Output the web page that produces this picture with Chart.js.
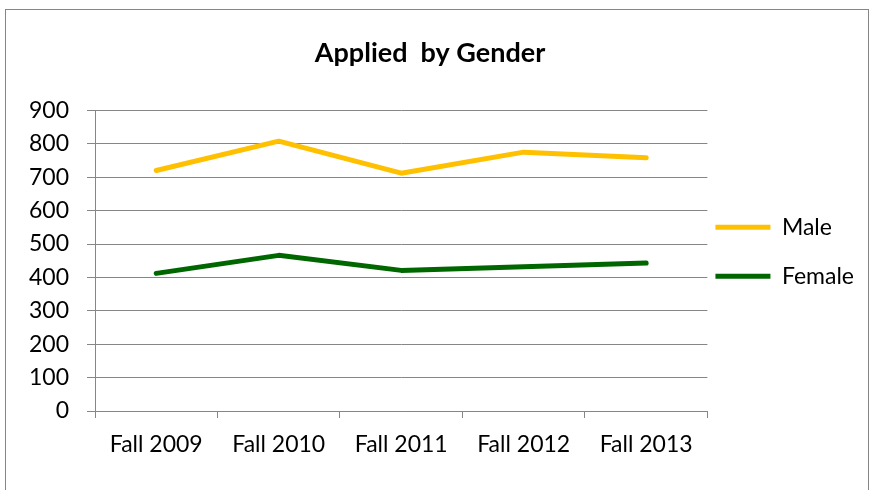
<!DOCTYPE html>
<html>
<head>
<meta charset="utf-8">
<script src="https://cdn.jsdelivr.net/npm/chart.js@4/dist/chart.umd.min.js"></script>
<style>
  html, body { margin: 0; padding: 0; background: #fff; }
  #wrap { position: relative; width: 873px; height: 490px; }
  #frame { position: absolute; left: 5px; top: 9px; width: 864px; height: 490px; border: 1px solid #868686; box-sizing: border-box; }
  canvas { position: absolute; left: 0; top: 0; }
</style>
</head>
<body>
<div id="wrap">
  <div id="frame"></div>
  <canvas id="c" width="873" height="490"></canvas>
</div>
<script>
const categories = ["Fall 2009", "Fall 2010", "Fall 2011", "Fall 2012", "Fall 2013"];
const maleValues = [720, 808, 712, 775, 758];
const femaleValues = [412, 466, 421, 432, 443];
const yTicks = [0, 100, 200, 300, 400, 500, 600, 700, 800, 900];
const chartTitle = "Applied  by Gender";

const FONT = "Lato, 'Liberation Sans', sans-serif";

const titleShift = {
  id: 'titleShift',
  afterLayout(chart) {
    if (chart.titleBlock) { chart.titleBlock.left -= 12; chart.titleBlock.right -= 12; }
  }
};

new Chart(document.getElementById('c'), {
  type: 'line',
  data: {
    labels: categories,
    datasets: [
      { label: 'Male', data: maleValues, borderColor: '#FFC000', backgroundColor: '#FFC000',
        borderWidth: 5, pointRadius: 0, tension: 0, borderCapStyle: 'round', borderJoinStyle: 'round' },
      { label: 'Female', data: femaleValues, borderColor: '#006600', backgroundColor: '#006600',
        borderWidth: 5, pointRadius: 0, tension: 0, borderCapStyle: 'round', borderJoinStyle: 'round' }
    ]
  },
  plugins: [titleShift],
  options: {
    responsive: false,
    animation: false,
    devicePixelRatio: 1,
    layout: { padding: { left: 20, right: 9, top: 30, bottom: 20 } },
    plugins: {
      title: {
        display: true, text: chartTitle, color: '#000',
        font: { family: FONT, size: 27, weight: 'bold' },
        padding: { top: 7, bottom: 41 }
      },
      legend: {
        position: 'right',
        align: 'center',
        fullSize: false,
        labels: {
          usePointStyle: true, pointStyle: 'line', pointStyleWidth: 55,
          color: '#000', font: { family: FONT, size: 23, lineHeight: '41px' }, padding: 8,
          generateLabels: chart => Chart.defaults.plugins.legend.labels.generateLabels(chart)
            .map(l => Object.assign({}, l, { text: [l.text] }))
        }
      },
      tooltip: { enabled: false }
    },
    scales: {
      x: {
        offset: true,
        grid: { offset: true, drawOnChartArea: false, drawTicks: true, tickLength: 7, color: '#868686', lineWidth: 1 },
        border: { display: true, color: '#868686', width: 1 },
        ticks: { color: '#000', font: { family: FONT, size: 23 }, padding: 13, maxRotation: 0 },
        afterFit: s => { s.height = 59; }
      },
      y: {
        min: 0, max: 900,
        afterBuildTicks: s => { s.ticks = yTicks.map(v => ({ value: v })); },
        grid: { color: '#868686', lineWidth: 1, drawTicks: true, tickLength: 8 },
        border: { display: true, color: '#868686', width: 1 },
        ticks: { color: '#000', font: { family: FONT, size: 23 }, padding: 18 },
        afterFit: s => { s.width = 75; }
      }
    }
  }
});
</script>
</body>
</html>
